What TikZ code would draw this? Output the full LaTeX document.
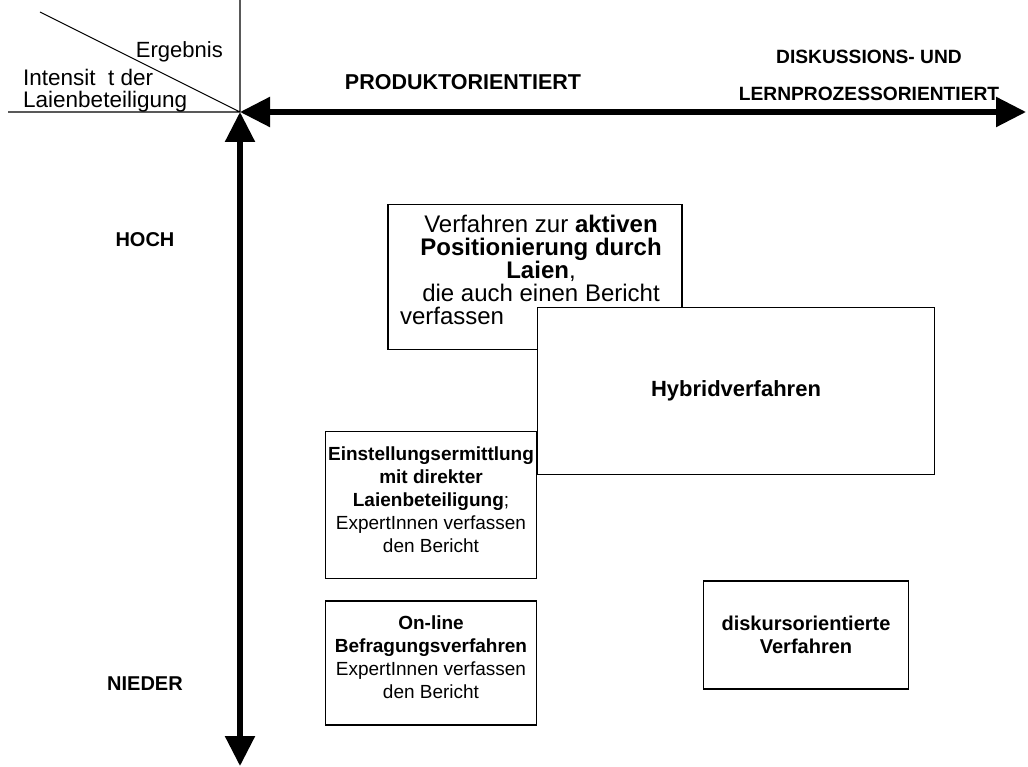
\documentclass[tikz,border=0pt]{standalone}
\usepackage{fontspec}
\setmainfont{Liberation Sans}
\usetikzlibrary{arrows.meta}
\tikzset{
  box/.style={draw, line width=1.1pt, fill=white, align=center, inner sep=0pt},
  lbl/.style={font=\fontsize{20}{23}\selectfont\bfseries, inner sep=0pt},
  axis/.style={line width=5.5pt, {Triangle[length=30pt,width=29pt]}-{Triangle[length=30pt,width=29pt]}}
}
\begin{document}
\begin{tikzpicture}[x=1pt,y=-1pt,font=\fontsize{19}{23}\selectfont]
  \useasboundingbox (0,0) rectangle (1028,767);
  % corner
  \coordinate (o) at (240,112);
  \coordinate (tl) at (40,12);
  \coordinate (t) at (240,0);
  \coordinate (l) at (8,112);
  \coordinate (r) at (1026,112);
  \coordinate (b) at (240,766);
  \draw[line width=1.1pt] (tl) -- (o) (t) -- (o) -- (l);
  \node[anchor=east, inner sep=0pt, font=\fontsize{22}{22}\selectfont] (erg) at (223,52) {Ergebnis};
  \node[anchor=west, align=left, inner sep=0pt, font=\fontsize{22.5}{22}\selectfont] (int) at (23,91)
    {Intensit\hspace{0.55em}t der\\Laienbeteiligung};
  % axes
  \draw[axis] (o) -- (r);
  \draw[axis] (o) -- (b);
  \node[lbl, font=\fontsize{21.5}{23}\selectfont\bfseries] (prod) at (463,82) {PRODUKTORIENTIERT};
  \node[lbl, align=center, font=\fontsize{19.2}{23}\selectfont\bfseries] (disk) at (869,75)
    {DISKUSSIONS- UND\\[14pt]LERNPROZESSORIENTIERT};
  \node[lbl] (hoch) at (145,240) {HOCH};
  \node[lbl] (nieder) at (145,684) {NIEDER};
  % boxes
  \node[box, minimum width=294pt, minimum height=145pt] (akt) at (535,277) {};
  \node[align=center, inner sep=0pt, font=\fontsize{24}{23}\selectfont] (akttxt) at (541,270)
    {Verfahren zur \textbf{aktiven}\\\textbf{Positionierung durch}\\\textbf{Laien},\\
     die auch einen Bericht\\\makebox[282pt][l]{verfassen}};
  \node[box, minimum width=397pt, minimum height=167pt, font=\fontsize{22}{23}\selectfont] (hyb) at (736,391)
    {\textbf{Hybridverfahren}};
  \node[box, minimum width=211pt, minimum height=147pt] (einst) at (431,505) {};
  \node[align=center, inner sep=0pt] (einsttxt) at (431,500)
    {\textbf{Einstellungsermittlung}\\\textbf{mit direkter}\\\textbf{Laienbeteiligung};\\
     ExpertInnen verfassen\\den Bericht};
  \node[box, minimum width=211pt, minimum height=124pt] (online) at (431,663) {};
  \node[align=center, inner sep=0pt] (onlinetxt) at (431,657)
    {\textbf{On-line}\\\textbf{Befragungsverfahren}\\ExpertInnen verfassen\\den Bericht};
  \node[box, minimum width=205pt, minimum height=108pt, font=\fontsize{20}{23}\selectfont] (diskurs) at (806,635)
    {\textbf{diskursorientierte}\\\textbf{Verfahren}};
\end{tikzpicture}
\end{document}
